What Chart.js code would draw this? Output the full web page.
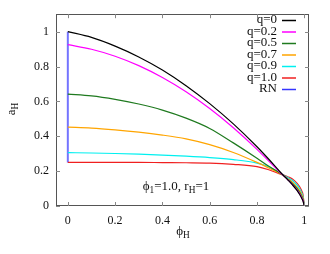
<!DOCTYPE html>
<html><head><meta charset="utf-8">
<script src="https://cdn.jsdelivr.net/npm/chart.js@4"></script>
<style>html,body{margin:0;padding:0;background:#fff}</style>
</head><body>
<canvas id="c" width="330" height="254"></canvas>
<script>
const phi = [0, 0.1, 0.2, 0.3, 0.4, 0.5, 0.6, 0.7, 0.8, 0.85, 0.9, 0.93, 0.95, 0.97, 0.98, 0.99, 0.995, 1.0];
const q00 = [1.0, 0.967, 0.917, 0.855, 0.780, 0.690, 0.587, 0.471, 0.340, 0.268, 0.192, 0.150, 0.121, 0.088, 0.067, 0.042, 0.027, 0];
const q02 = [0.925, 0.899, 0.859, 0.805, 0.737, 0.655, 0.559, 0.449, 0.325, 0.257, 0.189, 0.151, 0.123, 0.091, 0.071, 0.046, 0.031, 0];
const q05 = [0.642, 0.632, 0.612, 0.585, 0.550, 0.504, 0.445, 0.362, 0.274, 0.228, 0.187, 0.154, 0.130, 0.099, 0.079, 0.054, 0.037, 0];
const q07 = [0.452, 0.447, 0.437, 0.424, 0.407, 0.385, 0.352, 0.307, 0.250, 0.218, 0.185, 0.157, 0.137, 0.107, 0.088, 0.062, 0.044, 0];
const q09 = [0.306, 0.304, 0.301, 0.297, 0.292, 0.286, 0.278, 0.266, 0.246, 0.225, 0.186, 0.163, 0.146, 0.119, 0.100, 0.073, 0.053, 0];
const q10 = [0.250, 0.250, 0.250, 0.250, 0.249, 0.248, 0.246, 0.239, 0.226, 0.208, 0.183, 0.168, 0.155, 0.130, 0.112, 0.085, 0.063, 0];
const rnX = [0, 0];
const rnY = [0.25, 1.0];
const seriesLabels = ['q=0', 'q=0.2', 'q=0.5', 'q=0.7', 'q=0.9', 'q=1.0', 'RN'];
const seriesColors = ['#000000', '#ff00ff', '#1f7a1f', '#ffa500', '#00f0f0', '#f02020', '#3535ff'];
const xTicks = [0, 0.2, 0.4, 0.6, 0.8, 1];
const yTicks = [0, 0.2, 0.4, 0.6, 0.8, 1];

const curves = [q00, q02, q05, q07, q09, q10];
const datasets = curves.map((arr, i) => ({
  label: seriesLabels[i],
  data: phi.map((p, k) => ({x: p, y: arr[k]})),
  borderColor: seriesColors[i],
  borderWidth: 1.2,
  pointRadius: 0,
  fill: false,
  cubicInterpolationMode: 'monotone'
}));
datasets.push({
  label: seriesLabels[6],
  data: rnX.map((v, k) => ({x: v, y: rnY[k]})),
  borderColor: '#7474ff',
  legendColor: seriesColors[6],
  borderWidth: 2,
  pointRadius: 0,
  fill: false
});

const SERIF = "'Liberation Serif', 'DejaVu Serif', serif";

function drawParts(ctx, parts, x, y, size, align) {
  let total = 0;
  const widths = parts.map(p => {
    ctx.font = (p[1] ? size * 0.72 : size) + 'px ' + SERIF;
    const w = ctx.measureText(p[0]).width;
    total += w;
    return w;
  });
  let cx = align === 'center' ? x - total / 2 : x;
  parts.forEach((p, i) => {
    ctx.font = (p[1] ? size * 0.72 : size) + 'px ' + SERIF;
    ctx.textAlign = 'left';
    ctx.textBaseline = 'middle';
    ctx.fillText(p[0], cx, y + (p[1] ? size * 0.3 : 0));
    cx += widths[i];
  });
}

const decor = {
  id: 'decor',
  afterDraw(chart) {
    const ctx = chart.ctx;
    const a = chart.chartArea;
    const xs = chart.scales.x, ys = chart.scales.y;
    ctx.save();
    ctx.strokeStyle = '#555';
    ctx.lineWidth = 1;
    ctx.strokeRect(Math.round(a.left) + 0.5, Math.round(a.top) + 0.5, Math.round(a.right - a.left) - 1, Math.round(a.bottom - a.top) - 1);
    ctx.strokeStyle = '#888';
    ctx.beginPath();
    xTicks.forEach(v => {
      const px = Math.round(xs.getPixelForValue(v)) + 0.5;
      ctx.moveTo(px, a.bottom); ctx.lineTo(px, a.bottom - 4);
      ctx.moveTo(px, a.top); ctx.lineTo(px, a.top + 4);
    });
    yTicks.forEach(v => {
      const py = Math.round(ys.getPixelForValue(v)) + 0.5;
      ctx.moveTo(a.left, py); ctx.lineTo(a.left + 4, py);
      ctx.moveTo(a.right, py); ctx.lineTo(a.right - 4, py);
    });
    ctx.stroke();

    // legend
    ctx.fillStyle = '#111';
    chart.data.datasets.forEach((ds, i) => {
      const y = 20 + i * 11.5;
      ctx.font = '13px ' + SERIF;
      ctx.textAlign = 'right';
      ctx.textBaseline = 'middle';
      ctx.fillText(ds.label, 277, y);
      ctx.strokeStyle = ds.legendColor || ds.borderColor;
      ctx.lineWidth = 1.5;
      ctx.beginPath();
      ctx.moveTo(282, y + 0.5); ctx.lineTo(296, y + 0.5);
      ctx.stroke();
    });

    // annotation
    ctx.fillStyle = '#111';
    drawParts(ctx, [['\u03d5', false], ['1', true], ['=1.0, r', false], ['H', true], ['=1', false]], 176, 187, 13, 'center');
    // x title
    drawParts(ctx, [['\u03d5', false], ['H', true]], 183, 232, 13, 'center');
    // y title
    ctx.save();
    ctx.translate(12, 109);
    ctx.rotate(-Math.PI / 2);
    drawParts(ctx, [['a', false], ['H', true]], 0, 0, 13, 'center');
    ctx.restore();
    ctx.restore();
  }
};

new Chart(document.getElementById('c'), {
  type: 'line',
  data: {datasets},
  options: {
    responsive: false,
    animation: false,
    devicePixelRatio: 1,
    layout: {padding: {left: 0, right: 21, top: 12, bottom: 0}},
    plugins: {legend: {display: false}, tooltip: {enabled: false}},
    scales: {
      x: {
        type: 'linear', min: -0.05, max: 1.02,
        grid: {display: false, drawTicks: false},
        border: {display: false},
        afterBuildTicks: s => { s.ticks = xTicks.map(v => ({value: v})); },
        afterFit: s => { s.height = 48; },
        ticks: {padding: 8, color: '#111', font: {family: SERIF, size: 12}, maxRotation: 0,
          callback: v => String(v)}
      },
      y: {
        type: 'linear', min: 0, max: 1.1,
        grid: {display: false, drawTicks: false},
        border: {display: false},
        afterBuildTicks: s => { s.ticks = yTicks.map(v => ({value: v})); },
        afterFit: s => { s.width = 56; },
        ticks: {padding: 7, color: '#111', font: {family: SERIF, size: 12},
          callback: v => String(v)}
      }
    }
  },
  plugins: [decor]
});
</script>
</body></html>
